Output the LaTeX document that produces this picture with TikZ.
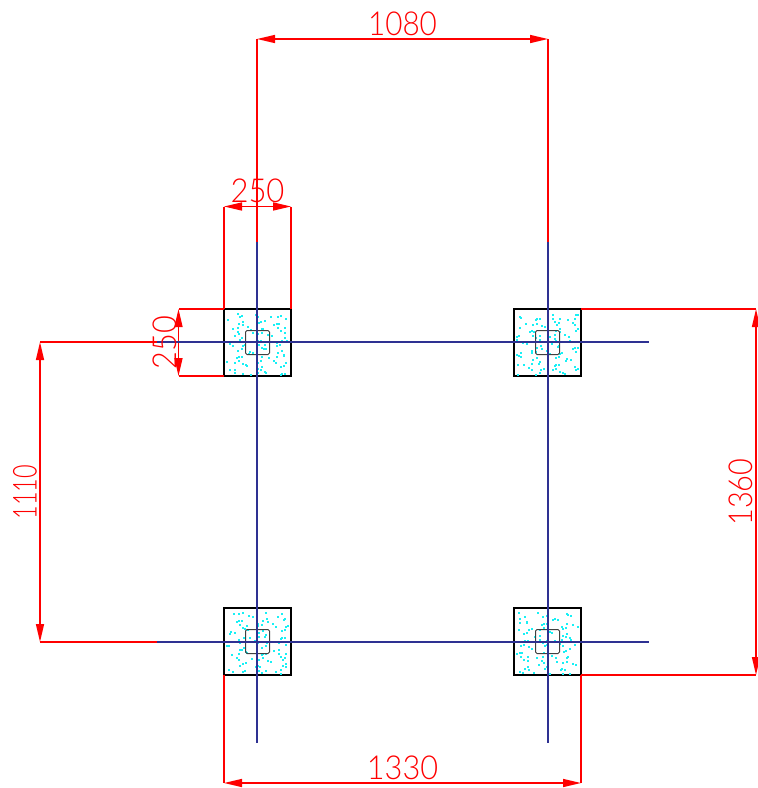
\documentclass[tikz,border=0pt]{standalone}
\usepackage{fontspec}
\setmainfont{Lato}[UprightFont=* Light]
\usetikzlibrary{arrows.meta}
\definecolor{axisblue}{HTML}{2E3192}
\definecolor{speck}{HTML}{19F0F5}
\tikzset{
  footing/.style={draw=black,line width=2pt,fill=white,minimum size=67pt,inner sep=0pt,outer sep=0pt},
  core/.style={draw=black!75,line width=1pt,rounded corners=1.5pt,minimum size=24pt,inner sep=0pt,outer sep=0pt},
  axisline/.style={draw=axisblue,line width=1.5pt},
  ext/.style={draw=red,line width=1.5pt},
  dim/.style={draw=red,line width=1.5pt,{Triangle[length=18pt,width=8pt,fill=red]}-{Triangle[length=18pt,width=8pt,fill=red]}},
  dimtext/.style={text=red,inner sep=0pt,font=\fontsize{33}{33}\selectfont},
  dimtextv/.style={text=red,inner sep=0pt,font=\fontsize{33}{33}\selectfont,rotate=90}
}
\begin{document}
\begin{tikzpicture}[x=1pt,y=-1pt]
\useasboundingbox (0,0) rectangle (758,788);
% footings
\node[footing] (f1) at (257.5,342.5) {};
\node[footing] (f2) at (547.5,342.5) {};
\node[footing] (f3) at (257.5,641.5) {};
\node[footing] (f4) at (547.5,641.5) {};
\foreach \f/\ox/\oy in {f1/0.13/0.41,f2/0.57/0.29,f3/0.83/0.71,f4/0.37/0.93}{
  \foreach \i in {1,...,100}{
    \pgfmathsetmacro\ux{\i*0.7548777+\ox+0.06*sin(\i*97)}
    \pgfmathsetmacro\uy{\i*0.5698403+\oy+0.06*sin(\i*131)}
    \pgfmathsetmacro\dx{(\ux-floor(\ux))*62-31}
    \pgfmathsetmacro\dy{(\uy-floor(\uy))*62-31}
    \fill[speck] ([shift={(\dx pt-1pt,\dy pt-1pt)}]\f.center) rectangle ++(2,2);
  }
}
\node[core] (c1) at (f1) {};
\node[core] (c2) at (f2) {};
\node[core] (c3) at (f3) {};
\node[core] (c4) at (f4) {};
% free ends
\coordinate (vT1) at (257,242);
\coordinate (vB1) at (257,743);
\coordinate (vT2) at (548,242);
\coordinate (vB2) at (548,743);
\coordinate (hL1) at (157,342);
\coordinate (hR1) at (649,342);
\coordinate (hL2) at (157,642);
\coordinate (hR2) at (649,642);
% extension lines
\coordinate (a1080) at (257,39);
\coordinate (b1080) at (548,39);
\draw[ext] (vT1) -- (a1080);
\draw[ext] (vT2) -- (b1080);
\coordinate (a250) at (224,206.5);
\coordinate (b250) at (291,206.5);
\draw[ext] (f1.north west) -- (a250);
\draw[ext] (f1.north east) -- (b250);
\coordinate (c250) at (178.5,309);
\coordinate (d250) at (178.5,376);
\draw[ext] (f1.north west) -- (c250);
\draw[ext] (f1.south west) -- (d250);
\coordinate (a1110) at (40,342);
\coordinate (b1110) at (40,642);
\draw[ext] (hL1) -- (a1110);
\draw[ext] (hL2) -- (b1110);
\coordinate (a1360) at (756,309);
\coordinate (b1360) at (756,675);
\draw[ext] (f2.north east) -- (a1360);
\draw[ext] (f4.south east) -- (b1360);
\coordinate (a1330) at (224,783);
\coordinate (b1330) at (581,783);
\draw[ext] (f3.south west) -- (a1330);
\draw[ext] (f4.south east) -- (b1330);
% dimension lines
\draw[dim] (a1080) -- (b1080);
\draw[dim] (a250) -- (b250);
\draw[dim] (c250) -- (d250);
\draw[dim] (a1110) -- (b1110);
\draw[dim] (a1360) -- (b1360);
\draw[dim] (a1330) -- (b1330);
% axes
\draw[axisline] (hL1) -- (hR1);
\draw[axisline] (hL2) -- (hR2);
\draw[axisline] (vT1) -- (vB1);
\draw[axisline] (vT2) -- (vB2);
% labels
\node[dimtext,xscale=0.90] (t1080) at (402.5,24) {1080};
\node[dimtext,xscale=0.94] (t250a) at (257.5,191) {250};
\node[dimtextv,xscale=0.93] (t250b) at (165,342.5) {250};
\node[dimtextv,xscale=0.71] (t1110) at (25,492) {1110};
\node[dimtextv,xscale=0.875] (t1360) at (741,492) {1360};
\node[dimtext,xscale=0.93] (t1330) at (402.5,768) {1330};
\end{tikzpicture}
\end{document}
